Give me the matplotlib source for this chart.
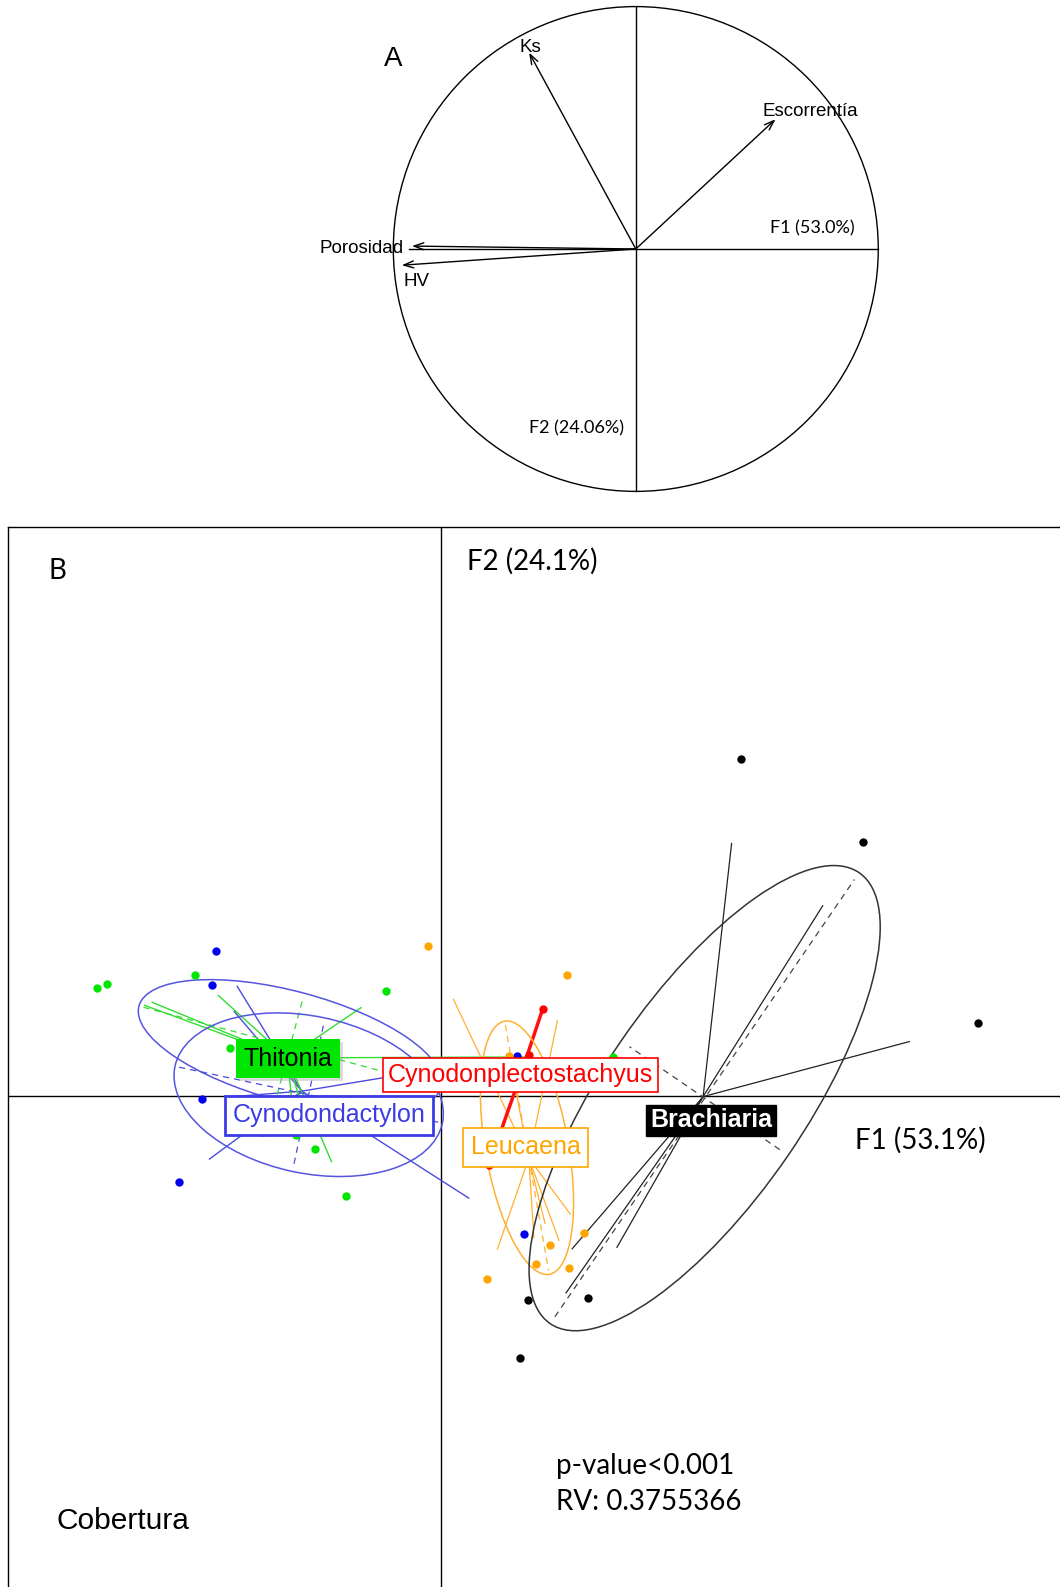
import numpy as np
import matplotlib.pyplot as plt
from matplotlib.patches import Ellipse, Circle
import matplotlib.patheffects as pe

# ---- Panel A: correlation circle (variable loadings on F1 / F2)
var_names = ['Ks', 'Escorrentía', 'Porosidad', 'HV']
var_f1 = [-0.44, 0.576, -0.923, -0.965]
var_f2 = [0.81, 0.535, 0.012, -0.067]

# ---- Panel B: site scores on F1 / F2 for each cover type
groups = ['Brachiaria', 'Cynodondactylon', 'Thitonia', 'Leucaena', 'Cynodonplectostachyus']

brachiaria_f1 = [2.96, 4.16, 5.30, 1.45, 0.86, 0.78]
brachiaria_f2 = [3.33, 2.51, 0.72, -1.99, -2.01, -2.59]

dactylon_f1 = [-2.23, -2.27, -2.365, -2.595, -1.76, 0.75, 0.82]
dactylon_f2 = [1.43, 1.10, -0.03, -0.845, -0.35, 0.40, -1.36]

thitonia_f1 = [-3.40, -3.30, -2.43, -0.55, -2.09, -1.44, -1.25, -0.94, 1.69]
thitonia_f2 = [1.07, 1.11, 1.20, 1.04, 0.48, -0.38, -0.52, -0.99, 0.39]

leucaena_f1 = [-0.13, 1.24, 0.67, 1.41, 1.076, 0.93, 1.26, 0.45]
leucaena_f2 = [1.48, 1.20, 0.40, -1.35, -1.47, -1.66, -1.695, -1.81]

plecto_f1 = [1.00, 0.865, 0.47]
plecto_f2 = [0.86, 0.41, -0.68]

# ellipses (center f1, center f2, width, height, angle)
ell_groups = ['Thitonia', 'Cynodondactylon', 'Leucaena', 'Brachiaria']
ell_cx = [-1.495, -1.311, 0.845, 2.60]
ell_cy = [0.49, 0.014, -0.51, -0.02]
ell_w = [3.09, 2.70, 2.54, 5.40]
ell_h = [1.09, 1.55, 0.82, 2.00]
ell_ang = [-15, -12, -80, 55.6]

ARIAL = 'Liberation Sans'
CALIBRI = 'Lato'

fig = plt.figure(figsize=(10.60, 15.87), dpi=100)

# ================= Panel A =================
axA = fig.add_axes([0, 1 - 510 / 1568, 1, 510 / 1568])
r_px = 239.5
axA.set_xlim(-628 / r_px, (1047 - 628) / r_px)
axA.set_ylim((246 - 510) / r_px, 246 / r_px)
axA.axis('off')

axA.add_patch(Circle((0, 0), 1, fill=False, color='black', lw=1))
axA.plot([-0.935, 1], [0, 0], color='black', lw=1)
axA.plot([0, 0], [-1, 1], color='black', lw=1)
for x, y in zip(var_f1, var_f2):
    axA.annotate('', xy=(x, y), xytext=(0, 0),
                 arrowprops=dict(arrowstyle='->,head_length=0.7,head_width=0.25',
                                 color='black', lw=1, shrinkA=0, shrinkB=0))

axA.text(-1.002, 0.785, 'A', fontsize=20, family=ARIAL, ha='center', va='center')
var_lab_pos = [(-0.434, 0.831), (0.718, 0.568), (-1.131, 0.0), (-0.906, -0.134)]
for name, (lx, ly) in zip(var_names, var_lab_pos):
    axA.text(lx, ly, name, fontsize=13.5, family=ARIAL, ha='center', va='center')
axA.text(0.728, 0.084, 'F1 (53.0%)', fontsize=13, family=CALIBRI, ha='center', va='center')
axA.text(-0.246, -0.739, 'F2 (24.06%)', fontsize=13, family=CALIBRI, ha='center', va='center')

# ================= Panel B =================
axB = fig.add_axes([8 / 1047, 0, 1.0, (1568 - 521) / 1568])
axB.set_xlim(-4.28, 6.19)
axB.set_ylim(-4.85, 5.62)
axB.set_xticks([])
axB.set_yticks([])
axB.spines['right'].set_visible(False)
axB.spines['bottom'].set_visible(False)
for s in ['left', 'top']:
    axB.spines[s].set_linewidth(1)

axB.axhline(0, color='black', lw=1, zorder=1)
axB.axvline(0, color='black', lw=1, zorder=1)

group_data = {
    'Brachiaria': (brachiaria_f1, brachiaria_f2),
    'Cynodondactylon': (dactylon_f1, dactylon_f2),
    'Thitonia': (thitonia_f1, thitonia_f2),
    'Leucaena': (leucaena_f1, leucaena_f2),
    'Cynodonplectostachyus': (plecto_f1, plecto_f2),
}
point_col = {'Brachiaria': 'black', 'Cynodondactylon': '#0000EE', 'Thitonia': '#00E600',
             'Leucaena': '#FFA500', 'Cynodonplectostachyus': '#FF0000'}
star_col = {'Brachiaria': '#222222', 'Cynodondactylon': '#4B4BE0', 'Thitonia': '#33DD33',
            'Leucaena': '#FFB030', 'Cynodonplectostachyus': '#FF1010'}
star_lw = {'Brachiaria': 0.9, 'Cynodondactylon': 1.0, 'Thitonia': 1.0,
           'Leucaena': 0.9, 'Cynodonplectostachyus': 2.5}
cstar = {'Brachiaria': 0.75, 'Cynodondactylon': 0.75, 'Thitonia': 0.75,
         'Leucaena': 0.75, 'Cynodonplectostachyus': 1.0}

# star segments from group centroid
for g in groups:
    xs, ys = np.array(group_data[g][0]), np.array(group_data[g][1])
    cx, cy = xs.mean(), ys.mean()
    for x, y in zip(xs, ys):
        axB.plot([cx, cx + cstar[g] * (x - cx)], [cy, cy + cstar[g] * (y - cy)],
                 color=star_col[g], lw=star_lw[g], zorder=2)

# ellipses with dashed axes
ell_col = {'Thitonia': '#5555E0', 'Cynodondactylon': '#5555E0',
           'Leucaena': '#FFB030', 'Brachiaria': '#333333'}
axis_col = {'Thitonia': '#33DD33', 'Cynodondactylon': '#4B4BE0',
            'Leucaena': '#FFB030', 'Brachiaria': '#444444'}
for g, cx, cy, w, h, a in zip(ell_groups, ell_cx, ell_cy, ell_w, ell_h, ell_ang):
    axB.add_patch(Ellipse((cx, cy), w, h, angle=a, fill=False,
                          ec=ell_col[g], lw=1.1, zorder=2))
    t = np.deg2rad(a)
    ux, uy = np.cos(t), np.sin(t)
    axB.plot([cx - ux * w / 2 * 0.97, cx + ux * w / 2 * 0.97],
             [cy - uy * w / 2 * 0.97, cy + uy * w / 2 * 0.97],
             color=axis_col[g], lw=0.9, ls=(0, (5, 4)), zorder=2)
    axB.plot([cx + uy * h / 2 * 0.9, cx - uy * h / 2 * 0.9],
             [cy - ux * h / 2 * 0.9, cy + ux * h / 2 * 0.9],
             color=axis_col[g], lw=0.9, ls=(0, (5, 4)), zorder=2)

# points
for g in groups:
    axB.plot(group_data[g][0], group_data[g][1], 'o', color=point_col[g],
             ms=6, mec='none', zorder=3)

# group labels
lab_pos = {'Thitonia': (-1.515, 0.37), 'Cynodondactylon': (-1.11, -0.19),
           'Cynodonplectostachyus': (0.78, 0.205), 'Leucaena': (0.83, -0.505),
           'Brachiaria': (2.665, -0.24)}
lab_style = {
    'Thitonia': dict(color='black', bbox=dict(boxstyle='square,pad=0.3', fc='#00E600', ec='none')),
    'Cynodondactylon': dict(color='#3C3CE6', bbox=dict(boxstyle='square,pad=0.3', fc='white', ec='#3C3CE6', lw=2)),
    'Cynodonplectostachyus': dict(color='#FF0000', bbox=dict(boxstyle='square,pad=0.2', fc='white', ec='#FF0000', lw=1.2)),
    'Leucaena': dict(color='#FFA500', bbox=dict(boxstyle='square,pad=0.3', fc='white', ec='#FFA500', lw=1.2)),
    'Brachiaria': dict(color='white', fontweight='bold', bbox=dict(boxstyle='square,pad=0.15', fc='black', ec='black')),
}
for g in groups:
    lx, ly = lab_pos[g]
    t = axB.text(lx, ly, g, fontsize=18, family=ARIAL, ha='center', va='center',
                 zorder=5, **lab_style[g])
    if g == 'Thitonia':
        t.get_bbox_patch().set_path_effects(
            [pe.withSimplePatchShadow(offset=(2, -2), shadow_rgbFace='#999999', alpha=0.35)])

axB.text(-3.79, 5.19, 'B', fontsize=20, family=CALIBRI, ha='center', va='center')
axB.text(0.90, 5.28, 'F2 (24.1%)', fontsize=20, family=CALIBRI, ha='center', va='center')
axB.text(4.73, -0.44, 'F1 (53.1%)', fontsize=20, family=CALIBRI, ha='center', va='center')
axB.text(1.13, -3.65, 'p-value<0.001', fontsize=20, family=CALIBRI, ha='left', va='center')
axB.text(1.13, -4.01, 'RV: 0.3755366', fontsize=20, family=CALIBRI, ha='left', va='center')
axB.text(-3.15, -4.20, 'Cobertura', fontsize=21.5, family=ARIAL, ha='center', va='center')

plt.savefig('out.png', dpi=100)
